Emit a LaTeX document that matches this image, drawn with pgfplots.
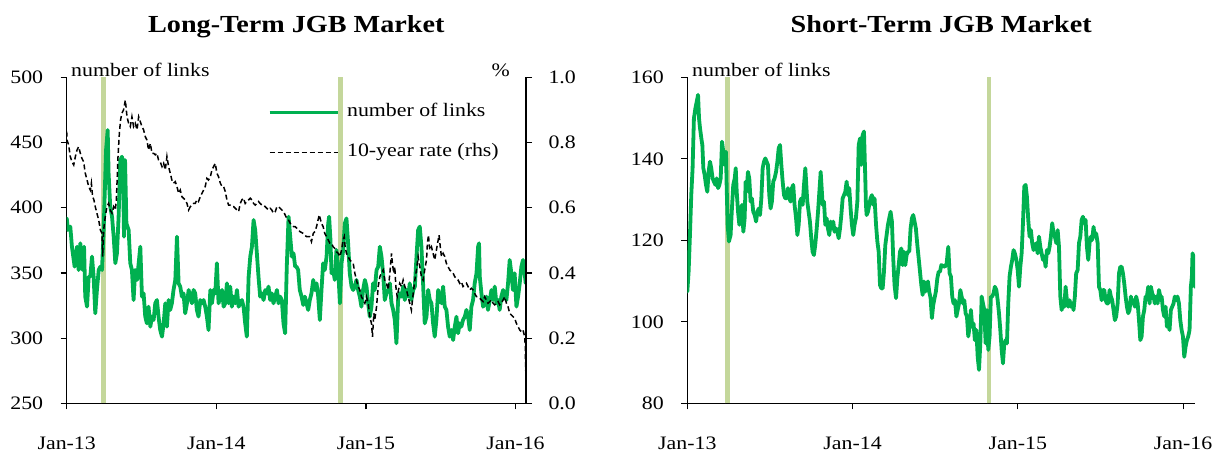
\documentclass[border=0pt]{standalone}
\usepackage{fontspec}
\setmainfont{Liberation Serif}[FakeStretch=1.15]
\usepackage{pgfplots}
\usepackage{pgfplotstable}
\pgfplotsset{compat=1.18}
\definecolor{linkgreen}{RGB}{0,176,80}
\definecolor{barolive}{RGB}{196,215,155}
\newcommand\lbl{\fontsize{19}{22}\selectfont}

\pgfplotstableread{
x y
0.000 391.9
0.009 382.9
0.024 385.5
0.035 370.1
0.053 354.8
0.069 370.1
0.080 352.2
0.091 372.7
0.107 352.2
0.116 370.1
0.124 331.8
0.136 324.1
0.147 347.1
0.158 347.1
0.169 362.5
0.180 347.1
0.191 319.0
0.202 336.9
0.214 352.2
0.225 354.8
0.236 352.2
0.247 382.9
0.263 444.3
0.274 459.6
0.280 426.4
0.291 400.8
0.303 393.1
0.314 377.8
0.325 357.4
0.336 365.0
0.347 393.1
0.358 436.6
0.369 439.1
0.376 435.3
0.383 377.8
0.390 436.6
0.399 388.0
0.414 382.9
0.425 357.4
0.436 352.2
0.447 329.2
0.458 352.2
0.470 344.6
0.481 357.4
0.492 370.1
0.503 331.8
0.514 334.3
0.525 316.5
0.536 311.3
0.547 324.1
0.559 308.8
0.570 316.5
0.581 313.9
0.592 326.7
0.603 329.2
0.614 316.5
0.625 306.2
0.637 301.1
0.648 311.3
0.659 326.7
0.670 308.8
0.681 329.2
0.692 321.6
0.703 326.7
0.714 336.9
0.726 344.6
0.737 377.8
0.748 342.0
0.759 339.5
0.770 331.8
0.781 334.3
0.792 319.0
0.804 326.7
0.815 336.9
0.826 331.8
0.837 326.7
0.848 336.9
0.859 334.3
0.870 321.6
0.881 316.5
0.893 329.2
0.904 326.7
0.915 329.2
0.926 324.1
0.937 316.5
0.948 306.2
0.960 336.9
0.971 326.7
0.982 336.9
0.993 334.3
1.004 357.4
1.015 326.7
1.027 331.8
1.038 336.9
1.049 324.1
1.060 326.7
1.071 342.0
1.082 326.7
1.093 339.5
1.104 324.1
1.116 331.8
1.127 326.7
1.138 336.9
1.149 324.1
1.160 326.7
1.171 329.2
1.182 324.1
1.193 311.3
1.204 301.1
1.216 347.1
1.227 362.5
1.238 370.1
1.249 390.6
1.260 382.9
1.271 365.0
1.282 347.1
1.293 331.8
1.304 334.3
1.316 329.2
1.327 336.9
1.338 334.3
1.349 339.5
1.360 329.2
1.371 334.3
1.382 326.7
1.394 331.8
1.405 336.9
1.416 326.7
1.427 331.8
1.438 329.2
1.449 311.3
1.460 303.7
1.471 354.8
1.483 393.1
1.494 377.8
1.505 362.5
1.516 365.0
1.527 354.8
1.536 354.8
1.547 352.2
1.558 336.9
1.570 331.8
1.581 325.4
1.592 331.8
1.603 326.7
1.614 321.6
1.625 329.2
1.636 334.3
1.648 344.6
1.659 336.9
1.670 342.0
1.681 331.8
1.692 313.9
1.703 336.9
1.714 357.3
1.725 352.2
1.737 362.5
1.748 388.0
1.754 393.1
1.763 375.2
1.770 349.7
1.781 352.2
1.792 344.6
1.803 367.6
1.815 352.2
1.826 326.7
1.837 357.3
1.848 367.6
1.859 388.0
1.870 391.8
1.881 372.7
1.892 349.7
1.904 339.5
1.915 336.9
1.926 339.5
1.937 344.6
1.948 336.9
1.959 331.8
1.970 324.1
1.981 336.9
1.993 344.6
2.004 339.5
2.015 326.7
2.026 316.4
2.037 324.1
2.048 342.0
2.059 336.9
2.071 352.2
2.082 354.8
2.093 370.1
2.104 362.5
2.115 349.7
2.126 329.2
2.137 334.3
2.149 336.9
2.160 342.0
2.171 326.7
2.182 321.6
2.193 313.9
2.204 296.0
2.215 329.2
2.226 334.3
2.238 331.8
2.249 339.5
2.260 329.2
2.271 336.9
2.282 331.8
2.293 342.0
2.304 329.2
2.316 336.9
2.327 339.5
2.338 362.5
2.349 382.9
2.360 385.5
2.371 370.1
2.382 342.0
2.393 311.3
2.405 316.4
2.416 336.9
2.427 329.2
2.438 326.7
2.449 311.3
2.460 301.1
2.471 313.9
2.483 336.9
2.494 331.8
2.505 326.7
2.516 339.5
2.527 324.1
2.538 321.6
2.549 308.8
2.560 301.1
2.572 306.2
2.583 298.5
2.594 308.8
2.605 316.4
2.616 303.7
2.627 311.3
2.638 308.8
2.649 313.9
2.661 316.4
2.672 321.6
2.683 316.4
2.694 306.2
2.705 324.1
2.716 329.2
2.727 342.0
2.739 349.7
2.750 370.1
2.756 372.7
2.761 347.1
2.772 334.3
2.783 324.1
2.794 326.7
2.805 331.8
2.816 321.6
2.828 329.2
2.839 336.9
2.850 329.2
2.861 339.5
2.872 326.7
2.883 329.2
2.894 321.6
2.905 331.8
2.917 336.9
2.928 331.8
2.939 329.2
2.950 342.0
2.961 359.9
2.972 349.7
2.983 336.9
2.994 349.7
3.006 324.1
3.017 331.8
3.028 342.0
3.039 354.8
3.050 359.9
3.061 349.7
3.068 342.0
}\longlinks

\pgfplotstableread{
x y
0.000 0.833
0.002 0.808
0.013 0.792
0.024 0.757
0.035 0.741
0.047 0.731
0.058 0.757
0.069 0.777
0.080 0.787
0.091 0.767
0.102 0.751
0.113 0.741
0.124 0.706
0.136 0.685
0.147 0.665
0.158 0.654
0.165 0.675
0.173 0.634
0.182 0.624
0.191 0.603
0.202 0.583
0.214 0.562
0.225 0.532
0.236 0.521
0.240 0.450
0.247 0.532
0.258 0.573
0.269 0.603
0.280 0.613
0.291 0.593
0.303 0.583
0.314 0.603
0.325 0.593
0.332 0.624
0.343 0.757
0.352 0.828
0.360 0.869
0.369 0.890
0.380 0.900
0.392 0.930
0.403 0.879
0.414 0.859
0.425 0.849
0.436 0.879
0.447 0.849
0.458 0.859
0.470 0.839
0.481 0.879
0.492 0.864
0.503 0.849
0.514 0.839
0.525 0.818
0.536 0.808
0.547 0.777
0.559 0.797
0.570 0.767
0.581 0.767
0.592 0.762
0.603 0.767
0.614 0.746
0.625 0.741
0.637 0.726
0.648 0.736
0.659 0.716
0.670 0.757
0.681 0.726
0.692 0.706
0.703 0.685
0.714 0.675
0.726 0.680
0.737 0.665
0.748 0.644
0.759 0.654
0.770 0.634
0.781 0.629
0.792 0.624
0.804 0.613
0.815 0.593
0.826 0.603
0.837 0.608
0.848 0.613
0.859 0.613
0.870 0.624
0.881 0.619
0.893 0.634
0.904 0.644
0.915 0.654
0.926 0.665
0.937 0.690
0.948 0.685
0.960 0.695
0.971 0.716
0.982 0.726
0.993 0.736
1.004 0.706
1.015 0.695
1.027 0.675
1.038 0.665
1.049 0.665
1.060 0.649
1.071 0.624
1.082 0.608
1.093 0.608
1.104 0.603
1.116 0.603
1.127 0.598
1.138 0.593
1.149 0.588
1.160 0.613
1.171 0.624
1.182 0.629
1.193 0.613
1.204 0.619
1.216 0.624
1.227 0.629
1.238 0.624
1.249 0.613
1.260 0.608
1.271 0.613
1.282 0.619
1.293 0.613
1.304 0.608
1.316 0.608
1.327 0.603
1.338 0.598
1.349 0.593
1.360 0.598
1.371 0.593
1.382 0.583
1.394 0.588
1.405 0.603
1.416 0.603
1.427 0.598
1.438 0.593
1.449 0.588
1.460 0.578
1.471 0.567
1.483 0.562
1.494 0.552
1.505 0.547
1.516 0.542
1.527 0.542
1.538 0.537
1.549 0.532
1.558 0.527
1.581 0.521
1.603 0.511
1.625 0.511
1.636 0.496
1.648 0.521
1.659 0.527
1.670 0.542
1.688 0.578
1.703 0.552
1.714 0.542
1.725 0.521
1.737 0.511
1.748 0.501
1.759 0.491
1.770 0.491
1.781 0.480
1.792 0.475
1.803 0.465
1.815 0.460
1.826 0.450
1.837 0.470
1.848 0.501
1.855 0.511
1.861 0.480
1.870 0.460
1.881 0.450
1.892 0.440
1.904 0.434
1.915 0.429
1.926 0.399
1.937 0.378
1.948 0.358
1.959 0.348
1.970 0.327
1.981 0.317
1.993 0.307
2.004 0.327
2.015 0.307
2.026 0.266
2.037 0.245
2.044 0.204
2.053 0.276
2.059 0.256
2.071 0.296
2.082 0.358
2.093 0.388
2.104 0.399
2.115 0.409
2.126 0.378
2.137 0.368
2.149 0.348
2.160 0.399
2.171 0.460
2.177 0.429
2.186 0.399
2.193 0.419
2.200 0.358
2.209 0.327
2.218 0.348
2.226 0.368
2.238 0.358
2.249 0.378
2.260 0.358
2.271 0.348
2.282 0.327
2.293 0.307
2.304 0.286
2.316 0.337
2.327 0.378
2.338 0.409
2.349 0.450
2.360 0.419
2.371 0.388
2.382 0.378
2.393 0.409
2.405 0.440
2.411 0.491
2.418 0.516
2.427 0.470
2.438 0.480
2.449 0.460
2.460 0.440
2.471 0.470
2.483 0.501
2.489 0.516
2.498 0.475
2.505 0.450
2.516 0.460
2.527 0.450
2.538 0.429
2.549 0.419
2.560 0.409
2.572 0.404
2.583 0.399
2.594 0.388
2.605 0.383
2.616 0.378
2.627 0.368
2.638 0.373
2.649 0.358
2.661 0.363
2.672 0.368
2.683 0.358
2.694 0.348
2.705 0.353
2.716 0.348
2.727 0.337
2.739 0.327
2.750 0.327
2.761 0.322
2.772 0.317
2.783 0.312
2.794 0.327
2.805 0.317
2.816 0.307
2.828 0.312
2.839 0.317
2.850 0.307
2.861 0.302
2.872 0.307
2.883 0.312
2.894 0.302
2.905 0.307
2.917 0.317
2.928 0.327
2.939 0.307
2.950 0.296
2.961 0.276
2.972 0.271
2.983 0.266
2.994 0.261
3.006 0.245
3.017 0.235
3.028 0.225
3.039 0.220
3.050 0.225
3.061 0.204
3.065 0.175
3.068 0.100
}\longrate

\pgfplotstableread{
x y
0.000 107.4
0.008 112.3
0.016 121.3
0.024 131.1
0.032 137.7
0.040 149.9
0.049 152.4
0.057 154.0
0.065 155.7
0.071 149.9
0.077 147.5
0.085 145.0
0.091 143.4
0.097 137.7
0.105 136.0
0.113 133.6
0.121 131.9
0.129 136.8
0.137 139.3
0.145 137.7
0.153 135.2
0.161 134.4
0.170 133.6
0.178 135.2
0.186 132.8
0.194 133.6
0.202 135.2
0.210 144.2
0.218 141.7
0.226 138.5
0.234 141.7
0.238 133.6
0.244 123.8
0.252 119.7
0.262 121.3
0.270 127.8
0.278 133.6
0.287 135.2
0.293 137.7
0.299 131.9
0.307 127.0
0.315 123.8
0.323 126.2
0.331 128.7
0.339 122.1
0.347 125.4
0.353 134.4
0.359 131.9
0.367 136.8
0.375 135.2
0.383 129.5
0.391 130.3
0.399 127.0
0.408 126.2
0.416 124.6
0.424 127.0
0.432 127.8
0.440 126.2
0.448 130.3
0.456 137.7
0.464 139.3
0.472 140.1
0.480 139.3
0.488 138.5
0.496 131.1
0.504 127.8
0.512 129.5
0.520 134.4
0.528 135.2
0.537 136.8
0.545 139.3
0.553 142.6
0.561 143.4
0.569 138.5
0.577 134.4
0.585 131.1
0.593 130.3
0.601 130.3
0.609 132.8
0.617 130.3
0.625 129.5
0.633 132.8
0.641 133.6
0.649 128.7
0.658 125.4
0.666 121.3
0.674 123.8
0.682 129.5
0.690 130.3
0.698 128.7
0.706 133.6
0.714 137.7
0.720 133.6
0.726 129.5
0.734 127.0
0.742 124.6
0.750 120.5
0.758 117.2
0.766 116.4
0.774 118.8
0.783 122.9
0.791 127.0
0.799 131.9
0.807 136.8
0.813 132.8
0.819 128.7
0.827 129.5
0.835 123.8
0.843 125.4
0.851 122.9
0.859 121.3
0.867 124.6
0.875 122.9
0.883 124.6
0.891 122.1
0.900 122.9
0.908 122.1
0.916 120.5
0.924 122.9
0.932 126.2
0.940 130.3
0.948 131.1
0.956 131.9
0.964 134.4
0.972 131.1
0.980 132.8
0.988 127.8
0.996 123.8
1.004 121.3
1.012 123.8
1.020 125.4
1.029 129.5
1.037 143.4
1.045 145.0
1.053 138.5
1.061 145.8
1.069 146.7
1.077 135.2
1.081 128.7
1.085 126.2
1.093 127.0
1.101 128.7
1.109 130.3
1.117 131.1
1.125 128.7
1.133 130.3
1.142 123.8
1.150 119.7
1.158 117.2
1.166 109.0
1.174 108.2
1.182 108.2
1.190 112.3
1.198 118.8
1.206 121.3
1.214 123.8
1.222 125.4
1.230 127.0
1.238 124.6
1.246 115.6
1.254 109.0
1.263 105.8
1.271 110.7
1.279 113.9
1.287 117.2
1.295 118.0
1.303 113.9
1.311 117.2
1.319 113.9
1.327 116.4
1.335 117.2
1.343 117.2
1.351 122.9
1.359 125.4
1.367 126.2
1.375 124.6
1.383 122.9
1.392 118.8
1.400 115.6
1.408 112.3
1.416 109.0
1.424 106.6
1.432 109.9
1.440 107.4
1.448 109.0
1.456 109.9
1.464 107.4
1.472 105.8
1.480 100.9
1.488 104.1
1.496 105.8
1.504 107.4
1.513 110.7
1.521 112.3
1.529 112.3
1.537 113.9
1.559 113.5
1.569 114.3
1.579 118.4
1.587 111.9
1.595 111.1
1.603 106.2
1.611 104.5
1.620 105.3
1.628 101.3
1.636 102.9
1.644 104.5
1.652 107.8
1.660 106.2
1.668 104.5
1.676 105.3
1.684 102.1
1.692 101.3
1.700 96.4
1.708 98.8
1.716 102.9
1.724 98.8
1.732 99.6
1.740 95.5
1.749 98.0
1.757 91.4
1.765 88.2
1.773 94.7
1.781 106.2
1.789 104.5
1.797 102.9
1.805 94.7
1.813 102.9
1.821 93.1
1.829 96.4
1.837 106.2
1.845 106.2
1.853 107.0
1.861 108.6
1.870 107.8
1.878 105.3
1.886 102.1
1.894 98.0
1.902 93.1
1.910 89.8
1.918 94.7
1.926 95.5
1.934 94.7
1.942 104.5
1.950 111.1
1.958 113.5
1.966 115.2
1.974 117.6
1.982 116.8
1.991 115.2
1.999 112.7
2.007 108.6
2.015 113.5
2.023 116.8
2.031 124.2
2.039 133.2
2.047 133.6
2.055 130.7
2.063 125.0
2.071 120.9
2.079 122.5
2.087 119.3
2.095 117.6
2.104 118.4
2.112 119.3
2.120 116.8
2.128 120.9
2.136 118.4
2.144 116.8
2.152 115.2
2.160 116.0
2.168 113.5
2.176 117.6
2.184 116.8
2.192 118.4
2.200 120.9
2.208 124.2
2.216 121.7
2.224 120.9
2.233 119.3
2.241 122.5
2.249 118.4
2.257 106.2
2.265 102.9
2.273 104.5
2.281 103.7
2.289 108.6
2.297 105.3
2.305 103.7
2.313 105.3
2.321 103.7
2.329 104.5
2.337 102.9
2.345 106.2
2.353 111.9
2.362 112.7
2.370 119.3
2.378 120.9
2.386 125.0
2.394 125.8
2.402 124.2
2.410 125.0
2.418 118.4
2.426 115.2
2.434 119.3
2.442 120.9
2.450 120.1
2.458 123.3
2.466 120.9
2.474 121.7
2.483 119.3
2.491 108.6
2.499 107.8
2.507 105.3
2.515 107.8
2.523 107.8
2.531 105.3
2.539 104.5
2.547 104.5
2.555 107.8
2.563 106.2
2.571 105.3
2.579 102.9
2.587 100.4
2.595 101.3
2.604 104.5
2.612 111.9
2.620 113.5
2.628 113.5
2.636 111.9
2.644 109.4
2.652 106.2
2.660 103.7
2.668 102.1
2.676 102.9
2.684 106.2
2.692 104.5
2.700 105.3
2.708 103.7
2.716 106.2
2.725 104.5
2.733 100.4
2.741 95.5
2.749 96.4
2.757 101.3
2.765 102.9
2.773 106.2
2.781 106.2
2.789 108.6
2.797 104.5
2.805 108.6
2.813 107.0
2.821 106.2
2.829 104.5
2.837 106.2
2.846 104.5
2.854 107.8
2.862 106.2
2.870 106.2
2.878 102.9
2.886 101.3
2.894 103.7
2.902 98.8
2.910 99.6
2.918 98.0
2.926 102.9
2.934 103.7
2.942 104.5
2.950 106.2
2.958 105.3
2.966 106.2
2.975 104.5
2.983 100.4
2.991 98.0
2.999 96.4
3.007 91.4
3.015 93.9
3.023 95.5
3.031 96.4
3.039 98.0
3.047 108.6
3.053 111.1
3.057 116.8
3.063 116.0
3.066 112.7
3.070 108.6
}\shortlinks

\pgfplotsset{
  jgbbase/.style={
    scale only axis, anchor=south west, height=326pt,
    axis line style={black, line width=1.2pt, -},
    tick style={black, line width=1.2pt},
    major tick length=6pt, tick align=outside,
    tick label style={font=\lbl},
    /pgf/number format/assume math mode=true,
    xtick={0,1,2,3},
    xticklabels={Jan-13,Jan-14,Jan-15,Jan-16},
    xticklabel style={yshift=-24pt},
  },
  linkline/.style={linkgreen, line width=3.8pt, line join=round, line cap=round},
  rateline/.style={black, line width=1.5pt, dash pattern=on 5pt off 3pt},
  qqebar/.style={barolive, line width=4.5pt},
}

\begin{document}
\begin{tikzpicture}
\path[use as bounding box] (0pt,0pt) rectangle (1226pt,453pt);

% ---------- Long-term panel, left axis ----------
\begin{axis}[jgbbase, at={(66.7pt,49.7pt)}, width=459.3pt,
  xmin=0, xmax=3.07, ymin=250, ymax=500,
  ytick={250,300,350,400,450,500},
  axis x line*=bottom, axis y line*=left,
  yticklabel style={xshift=-14pt}]
\addplot[qqebar] coordinates {(0.247,250) (0.247,500)};
\addplot[qqebar] coordinates {(1.829,250) (1.829,500)};
\addplot[linkline] table[x=x,y=y] {\longlinks};
\end{axis}

% ---------- Long-term panel, right axis ----------
\begin{axis}[jgbbase, at={(66.7pt,49.7pt)}, width=459.3pt,
  xmin=0, xmax=3.07, ymin=0, ymax=1,
  ytick={0,0.2,0.4,0.6,0.8,1},
  yticklabel style={xshift=13pt, /pgf/number format/.cd, fixed, fixed zerofill, precision=1},
  axis y line*=right, axis x line=none,
  legend style={draw=none, fill=none, at={(0.438,0.925)}, anchor=north west,
    font=\lbl, inner sep=0pt, row sep=19pt, column sep=6pt,
    nodes={inner sep=2pt, text height=13pt, text depth=4pt}},
  legend cell align=left,
  legend image code/.code={\draw[#1] (0pt,0pt) -- (68pt,0pt);}]
\addlegendimage{linkgreen, line width=3pt}
\addlegendentry{number of links}
\addplot[rateline] table[x=x,y=y] {\longrate};
\addlegendentry{10-year rate (rhs)}
\end{axis}

% ---------- Short-term panel ----------
\begin{axis}[jgbbase, at={(687.3pt,49.7pt)}, width=507.7pt,
  xmin=0, xmax=3.072, ymin=80, ymax=160,
  ytick={80,100,120,140,160},
  axis x line*=bottom, axis y line*=left,
  yticklabel style={xshift=-14pt}]
\addplot[qqebar] coordinates {(0.244,80) (0.244,160)};
\addplot[qqebar] coordinates {(1.825,80) (1.825,160)};
\addplot[linkline] table[x=x,y=y] {\shortlinks};
\end{axis}

% ---------- titles and axis captions ----------
\node[anchor=base, inner sep=0pt, font=\fontsize{24.5}{28}\selectfont\bfseries] at (296.3pt,420pt) {Long-Term JGB Market};
\node[anchor=base, inner sep=0pt, font=\fontsize{24.5}{28}\selectfont\bfseries] at (941.2pt,420pt) {Short-Term JGB Market};
\node[anchor=base west, inner sep=0pt, font=\lbl] at (71pt,376pt) {number of links};
\node[anchor=base east, inner sep=0pt, font=\lbl] at (510pt,376pt) {\%};
\node[anchor=base west, inner sep=0pt, font=\lbl] at (692pt,376pt) {number of links};
\end{tikzpicture}
\end{document}
